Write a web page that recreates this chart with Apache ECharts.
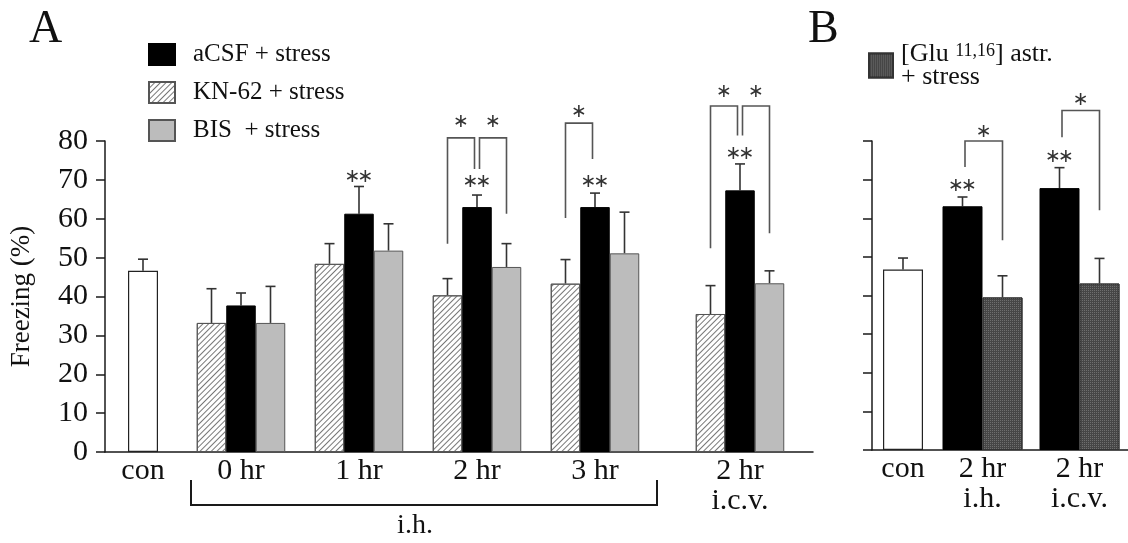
<!DOCTYPE html>
<html>
<head>
<meta charset="utf-8">
<script src="https://cdn.jsdelivr.net/npm/echarts@6/dist/echarts.min.js"></script>
<style>html,body{margin:0;padding:0;background:#fff}#c{width:1128px;height:543px}</style>
</head>
<body>
<div id="c"></div>
<script>
// ---------- DATA ----------
const yTicks = [0, 10, 20, 30, 40, 50, 60, 70, 80];
const conCatA = ['con'];
const hrCats = ['0 hr', '1 hr', '2 hr', '3 hr'];
const icvCat = ['2 hr\ni.c.v.'];
const conCatB = ['con'];
const bCats = ['2 hr\ni.h.', '2 hr\ni.c.v.'];

const conMeanA = [46.6], conSemA = [3.0];
const knMean = [33.2, 48.4, 40.3, 43.3], knSem = [8.8, 5.2, 4.3, 6.2];
const acsfMean = [37.7, 61.3, 63.0, 63.0], acsfSem = [3.2, 7.0, 3.1, 3.6];
const bisMean = [33.2, 51.8, 47.6, 51.1], bisSem = [9.4, 6.9, 6.0, 10.6];
const icvKnMean = [35.5], icvKnSem = [7.3];
const icvAcsfMean = [67.3], icvAcsfSem = [6.8];
const icvBisMean = [43.4], icvBisSem = [3.2];

const conMeanB = [46.7], conSemB = [3.0];
const bAcsfMean = [63.1, 67.8], bAcsfSem = [2.4, 5.3];
const bGluMean = [39.5, 43.1], bGluSem = [5.6, 6.5];

// significance: [category, barIndex, y]
const dblStarsHr = [[1, 1, 70.7], [2, 1, 69.4], [3, 1, 69.4]];
const dblStarsIcv = [[0, 1, 76.6]];
const dblStarsB = [[0, 0, 68.3], [1, 0, 75.8]];
// brackets: [category, fromBar, toBar, yFrom, yTop, yTo, starY]
const bracketsHr = [[2, 0, 1, 53.6, 80.8, 72.8, 85.0], [2, 1, 2, 72.8, 80.8, 61.3, 85.0], [3, 0, 1, 60.2, 84.6, 75.4, 87.4]];
const bracketsIcv = [[0, 0, 1, 52.4, 89.0, 81.4, 92.7], [0, 1, 2, 81.4, 89.0, 56.3, 92.7]];
const bracketsB = [[0, 0, 1, 73.3, 80.0, 54.3, 82.3], [1, 0, 1, 81.0, 87.9, 62.1, 90.5]];

// ---------- STYLE ----------
const FONT = 'Liberation Serif';
const AX = '#1a1a1a';
const ERR = '#333';
const BR = '#555';
const wA = 29.5, wB = 40;
const STAR_FONT = '19px "DejaVu Sans"';

const knStyle = {color: '#ffffff', borderColor: '#555', borderWidth: 1,
  decal: {symbol: 'rect', dashArrayX: [1, 0], dashArrayY: [1, 3], rotation: -Math.PI / 4, color: '#777'}};
const acsfStyle = {color: '#000', borderColor: '#000', borderWidth: 1};
const bisStyle = {color: '#bcbcbc', borderColor: '#555', borderWidth: 1};
const conStyle = {color: '#fff', borderColor: '#222', borderWidth: 1.2};
const gluStyle = {color: '#464646', borderColor: '#333', borderWidth: 1,
  decal: {symbol: 'rect', symbolSize: 1, dashArrayX: [1, 1], dashArrayY: [1, 1], color: '#6e6e6e'}};

const chart = echarts.init(document.getElementById('c'), null, {renderer: 'canvas'});

function star(x, y) {
  return {type: 'text', x: x, y: y,
    style: {text: '\u2217', fill: '#333', font: STAR_FONT, align: 'center', verticalAlign: 'middle'}};
}
function errSeries(ax, means, sems, barIdx, nBars, barW) {
  return {
    type: 'custom', xAxisIndex: ax, yAxisIndex: ax, z: 1, silent: true,
    data: means.map((m, i) => [i, m, sems[i]]),
    renderItem: (p, api) => {
      const c = api.value(0), m = api.value(1), s = api.value(2);
      const base = api.coord([c, m]);
      const x = base[0] + (barIdx - (nBars - 1) / 2) * barW;
      const yT = api.coord([c, m + s])[1];
      const st = {stroke: ERR, lineWidth: 1.6};
      return {type: 'group', children: [
        {type: 'line', shape: {x1: x, y1: base[1], x2: x, y2: yT}, style: st},
        {type: 'line', shape: {x1: x - 5, y1: yT, x2: x + 5, y2: yT}, style: st}
      ]};
    }
  };
}
function starSeries(ax, items, nBars, barW) {
  return {
    type: 'custom', xAxisIndex: ax, yAxisIndex: ax, z: 5, silent: true,
    data: items,
    renderItem: (p, api) => {
      const c = api.value(0), b = api.value(1), y = api.value(2);
      const pt = api.coord([c, y]);
      const x = pt[0] + (b - (nBars - 1) / 2) * barW;
      return {type: 'group', children: [star(x - 6.5, pt[1]), star(x + 6.5, pt[1])]};
    }
  };
}
function bracketSeries(ax, items, nBars, barW, blackIdx) {
  return {
    type: 'custom', xAxisIndex: ax, yAxisIndex: ax, z: 5, silent: true,
    data: items,
    renderItem: (p, api) => {
      const c = api.value(0), f = api.value(1), t = api.value(2);
      const yF = api.coord([c, api.value(3)])[1];
      const yTop = api.coord([c, api.value(4)])[1];
      const yTo = api.coord([c, api.value(5)])[1];
      const yS = api.coord([c, api.value(6)])[1];
      const cx = api.coord([c, 0])[0];
      const x1 = cx + (f - (nBars - 1) / 2) * barW + (f === blackIdx ? 2.5 : 0);
      const x2 = cx + (t - (nBars - 1) / 2) * barW - (t === blackIdx ? 2.5 : 0);
      return {type: 'group', children: [
        {type: 'polyline', shape: {points: [[x1, yF], [x1, yTop], [x2, yTop], [x2, yTo]]},
          style: {stroke: BR, lineWidth: 1.6, fill: null}},
        star((x1 + x2) / 2, yS)
      ]};
    }
  };
}

const catLabel = {fontFamily: FONT, fontSize: 30, color: '#111', lineHeight: 30, margin: 4};
function catX(grid, data) {
  return {type: 'category', gridIndex: grid, data: data, axisLine: {show: false}, axisTick: {show: false},
    axisLabel: catLabel, splitLine: {show: false}};
}
function hiddenY(grid) {
  return {type: 'value', gridIndex: grid, min: 0, max: 80, interval: 10, show: false};
}
function bgX(grid) {
  return {type: 'value', gridIndex: grid, min: 0, max: 1, axisLine: {show: true, lineStyle: {color: AX, width: 1.5}},
    axisTick: {show: false}, axisLabel: {show: false}, splitLine: {show: false}};
}
function bgY(grid, labels) {
  return {type: 'value', gridIndex: grid, min: 0, max: 80, interval: 10,
    axisLine: {show: true, lineStyle: {color: AX, width: 1.5}},
    axisTick: {show: true, inside: false, length: 9, lineStyle: {color: AX, width: 1.5}},
    axisLabel: labels ? {show: true, fontFamily: FONT, fontSize: 30, color: '#111', margin: 17,
      formatter: v => yTicks.indexOf(v) >= 0 ? String(v) : ''} : {show: false},
    splitLine: {show: false},
    name: labels ? 'Freezing (%)' : '', nameLocation: 'middle', nameGap: 70, nameRotate: 90,
    nameTextStyle: {fontFamily: FONT, fontSize: 27, color: '#111'}};
}

const option = {
  animation: false,
  backgroundColor: '#fff',
  title: [
    {text: 'A', left: 24, top: 2, textStyle: {fontFamily: FONT, fontSize: 46, fontWeight: 'normal', color: '#111'}},
    {text: 'B', left: 803, top: 2, textStyle: {fontFamily: FONT, fontSize: 46, fontWeight: 'normal', color: '#111'}}
  ],
  legend: [
    {orient: 'vertical', left: 148, top: 42, itemWidth: 26, itemHeight: 21, itemGap: 13, padding: 0,
      selectedMode: false, icon: 'rect',
      data: ['aCSF + stress', 'KN-62 + stress', 'BIS  + stress'],
      textStyle: {fontFamily: FONT, fontSize: 25, color: '#111', padding: [0, 0, 0, 13]}},
    {orient: 'vertical', left: 868, top: 41, itemWidth: 24, itemHeight: 24, padding: 0,
      selectedMode: false, icon: 'rect',
      data: ['[Glu 11,16] astr. + stress'],
      formatter: () => '{t|[Glu }{s|11,16}{t|] astr.}\n{t|+ stress}',
      textStyle: {fontFamily: FONT, fontSize: 26, color: '#111', padding: [0, 0, 0, 3],
        rich: {t: {fontFamily: FONT, fontSize: 26, lineHeight: 23, color: '#111'},
               s: {fontFamily: FONT, fontSize: 18, lineHeight: 23, verticalAlign: 'top', padding: [0, 0, 10, 0], color: '#111'}}}}
  ],
  grid: [
    {left: 104, width: 709, top: 141, bottom: 91},      // 0 background A
    {left: 104, width: 78, top: 141, bottom: 91},       // 1 con A
    {left: 182, width: 472, top: 141, bottom: 91},      // 2 hr groups
    {left: 667, width: 146, top: 141, bottom: 91},      // 3 icv
    {left: 872, right: 0, top: 141, bottom: 93},        // 4 background B
    {left: 872, width: 62, top: 141, bottom: 93},       // 5 con B
    {left: 934, width: 194, top: 141, bottom: 93}       // 6 B groups
  ],
  xAxis: [bgX(0), catX(1, conCatA), catX(2, hrCats), catX(3, icvCat), bgX(4), catX(5, conCatB), catX(6, bCats)],
  yAxis: [bgY(0, true), hiddenY(1), hiddenY(2), hiddenY(3), bgY(4, false), hiddenY(5), hiddenY(6)],
  series: [
    {name: 'con', type: 'bar', xAxisIndex: 1, yAxisIndex: 1, data: conMeanA, barWidth: 30, itemStyle: conStyle, z: 2},
    errSeries(1, conMeanA, conSemA, 0, 1, 30),

    {name: 'KN-62 + stress', type: 'bar', xAxisIndex: 2, yAxisIndex: 2, data: knMean, barWidth: wA, barGap: '0%', itemStyle: knStyle, z: 2},
    {name: 'aCSF + stress', type: 'bar', xAxisIndex: 2, yAxisIndex: 2, data: acsfMean, barWidth: wA, barGap: '0%', itemStyle: acsfStyle, z: 2},
    {name: 'BIS  + stress', type: 'bar', xAxisIndex: 2, yAxisIndex: 2, data: bisMean, barWidth: wA, barGap: '0%', itemStyle: bisStyle, z: 2},
    errSeries(2, knMean, knSem, 0, 3, wA),
    errSeries(2, acsfMean, acsfSem, 1, 3, wA),
    errSeries(2, bisMean, bisSem, 2, 3, wA),
    starSeries(2, dblStarsHr, 3, wA),
    bracketSeries(2, bracketsHr, 3, wA, 1),

    {name: 'KN-62 + stress', type: 'bar', xAxisIndex: 3, yAxisIndex: 3, data: icvKnMean, barWidth: wA, barGap: '0%', itemStyle: knStyle, z: 2},
    {name: 'aCSF + stress', type: 'bar', xAxisIndex: 3, yAxisIndex: 3, data: icvAcsfMean, barWidth: wA, barGap: '0%', itemStyle: acsfStyle, z: 2},
    {name: 'BIS  + stress', type: 'bar', xAxisIndex: 3, yAxisIndex: 3, data: icvBisMean, barWidth: wA, barGap: '0%', itemStyle: bisStyle, z: 2},
    errSeries(3, icvKnMean, icvKnSem, 0, 3, wA),
    errSeries(3, icvAcsfMean, icvAcsfSem, 1, 3, wA),
    errSeries(3, icvBisMean, icvBisSem, 2, 3, wA),
    starSeries(3, dblStarsIcv, 3, wA),
    bracketSeries(3, bracketsIcv, 3, wA, 1),

    {name: 'conB', type: 'bar', xAxisIndex: 5, yAxisIndex: 5, data: conMeanB, barWidth: wB, itemStyle: conStyle, z: 2},
    errSeries(5, conMeanB, conSemB, 0, 1, wB),
    {name: 'aCSF B', type: 'bar', xAxisIndex: 6, yAxisIndex: 6, data: bAcsfMean, barWidth: wB, barGap: '0%', itemStyle: acsfStyle, z: 2},
    {name: '[Glu 11,16] astr. + stress', type: 'bar', xAxisIndex: 6, yAxisIndex: 6, data: bGluMean, barWidth: wB, barGap: '0%', itemStyle: gluStyle, z: 2},
    errSeries(6, bAcsfMean, bAcsfSem, 0, 2, wB),
    errSeries(6, bGluMean, bGluSem, 1, 2, wB),
    starSeries(6, dblStarsB, 2, wB),
    bracketSeries(6, bracketsB, 2, wB, 0)
  ],
  graphic: [
    {type: 'polyline', shape: {points: [[191, 480], [191, 505], [657, 505], [657, 480]]},
      style: {stroke: AX, lineWidth: 2, fill: null}},
    {type: 'text', x: 415, y: 526, style: {text: 'i.h.', font: '28px "Liberation Serif"', fill: '#111', align: 'center', verticalAlign: 'middle'}}
  ]
};
chart.setOption(option);
</script>
</body>
</html>
